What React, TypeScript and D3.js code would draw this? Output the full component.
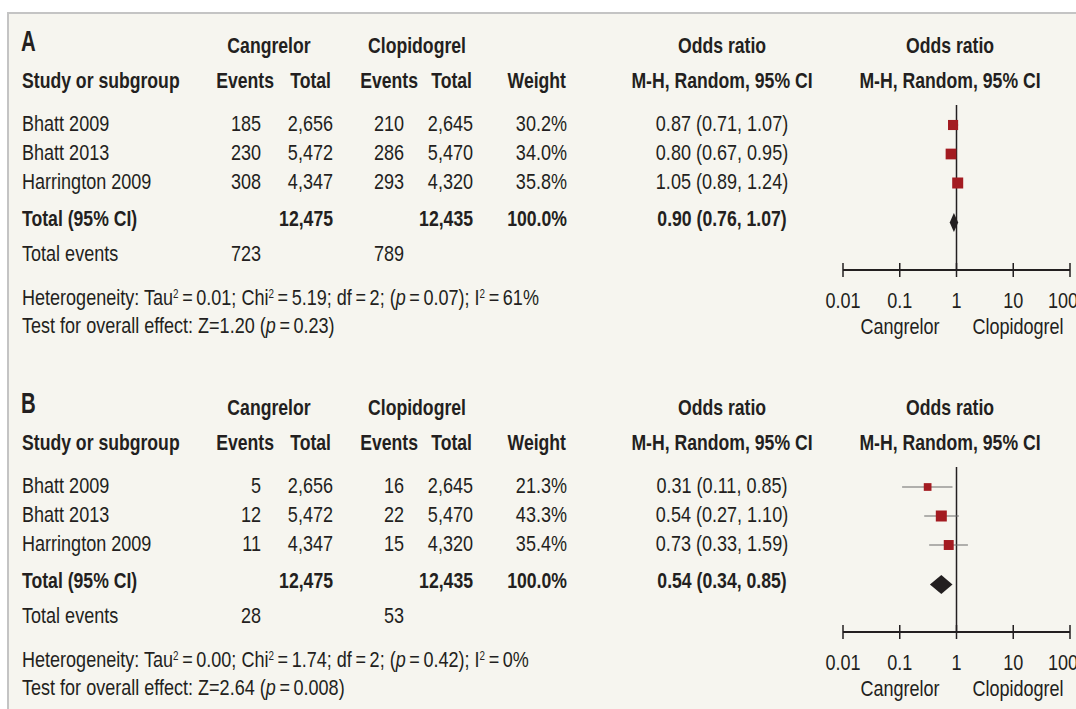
import React from "react";
import * as d3 from "d3";

// ---------- DATA ----------
const studies = ["Bhatt 2009", "Bhatt 2013", "Harrington 2009"];

// Panel A
const aCangEvents = [185, 230, 308];
const aCangTotal = [2656, 5472, 4347];
const aClopEvents = [210, 286, 293];
const aClopTotal = [2645, 5470, 4320];
const aWeight = [30.2, 34.0, 35.8];
const aOR = [0.87, 0.8, 1.05];
const aLo = [0.71, 0.67, 0.89];
const aHi = [1.07, 0.95, 1.24];
const aPooled = [0.9, 0.76, 1.07];
const aTotals = [12475, 12435];
const aTotalEvents = [723, 789];
const aHet = ["0.01", "5.19", "2", "0.07", "61%"];
const aTest = ["1.20", "0.23"];

// Panel B
const bCangEvents = [5, 12, 11];
const bCangTotal = [2656, 5472, 4347];
const bClopEvents = [16, 22, 15];
const bClopTotal = [2645, 5470, 4320];
const bWeight = [21.3, 43.3, 35.4];
const bOR = [0.31, 0.54, 0.73];
const bLo = [0.11, 0.27, 0.33];
const bHi = [0.85, 1.1, 1.59];
const bPooled = [0.54, 0.34, 0.85];
const bTotals = [12475, 12435];
const bTotalEvents = [28, 53];
const bHet = ["0.00", "1.74", "2", "0.42", "0%"];
const bTest = ["2.64", "0.008"];

const axisTicks = [0.01, 0.1, 1, 10, 100];
const axisTickLabels = ["0.01", "0.1", "1", "10", "100"];
const favourLabels = ["Cangrelor", "Clopidogrel"];

// ---------- STYLE ----------
const FONT = "'Liberation Sans', Arial, sans-serif";
const INK = "#231f20";
const RED = "#a31b21";
const BG = "#f6f5ef";
const SX = 0.82; // horizontal compression to mimic a condensed face
const EQ = "\u2009=\u2009";

const fmtInt = d3.format(",");
const fmt2 = d3.format(".2f");
const fmtW = (w: number) => d3.format(".1f")(w) + "%";
const orText = (o: number, l: number, h: number) => `${fmt2(o)} (${fmt2(l)}, ${fmt2(h)})`;

const x = d3.scaleLog().domain([0.01, 100]).range([843, 1070]);

interface PanelProps {
  letter: string;
  dy: number;
  ce: number[];
  ct: number[];
  le: number[];
  lt: number[];
  w: number[];
  or: number[];
  lo: number[];
  hi: number[];
  pooled: number[];
  totals: number[];
  totalEvents: number[];
  het: string[];
  test: string[];
}

const FS = 22;
const FSB = 21.5;

function T(props: any) {
  const { x: px, y, bold, size, sx, children, ...rest } = props;
  const fs = size || (bold ? FSB : FS);
  const bl = y + fs * 0.358;
  return (
    <text
      transform={`translate(${px},${bl}) scale(${sx || SX},1)`}
      fontFamily={FONT}
      fontSize={fs}
      fontWeight={bold ? "bold" : "normal"}
      fill={INK}
      {...rest}
    >
      {children}
    </text>
  );
}

function Panel(p: PanelProps) {
  const rowY = (i: number) => p.dy + 123 + i * 29;
  const totalY = p.dy + 218.5;
  const evY = p.dy + 253;
  const hetY = p.dy + 297;
  const testY = p.dy + 325;
  const axisY = p.dy + 270;
  const maxW = d3.max(p.w) as number;
  const size = d3.scaleSqrt().domain([0, maxW]).range([0, 11]);
  const sup = (s: string) => (
    <tspan baselineShift="super" fontSize={12}>
      {s}
    </tspan>
  );
  const lastIdx = axisTicks.length - 1;
  return (
    <g>
      <T y={p.dy + 40} x={21} bold size={30} sx={0.68}>
        {p.letter}
      </T>
      <T y={p.dy + 45} x={269} bold textAnchor="middle">Cangrelor</T>
      <T y={p.dy + 45} x={417} bold textAnchor="middle">Clopidogrel</T>
      <T y={p.dy + 45} x={722} bold textAnchor="middle">Odds ratio</T>
      <T y={p.dy + 45} x={950} bold textAnchor="middle">Odds ratio</T>

      <T y={p.dy + 80} x={22} bold>Study or subgroup</T>
      <T y={p.dy + 80} x={274} bold textAnchor="end">Events</T>
      <T y={p.dy + 80} x={331} bold textAnchor="end">Total</T>
      <T y={p.dy + 80} x={418} bold textAnchor="end">Events</T>
      <T y={p.dy + 80} x={472} bold textAnchor="end">Total</T>
      <T y={p.dy + 80} x={566} bold textAnchor="end">Weight</T>
      <T y={p.dy + 80} x={722} bold textAnchor="middle">M-H, Random, 95% CI</T>
      <T y={p.dy + 80} x={950} bold textAnchor="middle">M-H, Random, 95% CI</T>

      {studies.map((s, i) => (
        <g key={s}>
          <T y={rowY(i)} x={22}>{s}</T>
          <T y={rowY(i)} x={261} textAnchor="end">{p.ce[i]}</T>
          <T y={rowY(i)} x={333} textAnchor="end">{fmtInt(p.ct[i])}</T>
          <T y={rowY(i)} x={404} textAnchor="end">{p.le[i]}</T>
          <T y={rowY(i)} x={473} textAnchor="end">{fmtInt(p.lt[i])}</T>
          <T y={rowY(i)} x={567} textAnchor="end">{fmtW(p.w[i])}</T>
          <T y={rowY(i)} x={722} textAnchor="middle">{orText(p.or[i], p.lo[i], p.hi[i])}</T>
        </g>
      ))}

      <T y={totalY} x={22} bold>Total (95% CI)</T>
      <T y={totalY} x={333} bold textAnchor="end">{fmtInt(p.totals[0])}</T>
      <T y={totalY} x={473} bold textAnchor="end">{fmtInt(p.totals[1])}</T>
      <T y={totalY} x={567} bold textAnchor="end">100.0%</T>
      <T y={totalY} x={722} bold textAnchor="middle">{orText(p.pooled[0], p.pooled[1], p.pooled[2])}</T>

      <T y={evY} x={22}>Total events</T>
      <T y={evY} x={261} textAnchor="end">{p.totalEvents[0]}</T>
      <T y={evY} x={404} textAnchor="end">{p.totalEvents[1]}</T>

      <T y={hetY} x={22}>
        Heterogeneity: Tau{sup("2")}
        {EQ + p.het[0]}; Chi{sup("2")}
        {EQ + p.het[1]}; df{EQ + p.het[2]}; (<tspan fontStyle="italic">p</tspan>
        {EQ + p.het[3]}); I{sup("2")}
        {EQ + p.het[4]}
      </T>
      <T y={testY} x={22}>
        Test for overall effect: Z={p.test[0]} (<tspan fontStyle="italic">p</tspan>
        {EQ + p.test[1]})
      </T>

      {/* forest plot */}
      <line x1={x(1)} x2={x(1)} y1={p.dy + 105} y2={axisY} stroke={INK} strokeWidth={1.5} />
      {studies.map((s, i) => {
        const cy = rowY(i) + 2;
        const sz = size(p.w[i]);
        return (
          <g key={"m" + s}>
            <line x1={x(p.lo[i])} x2={x(p.hi[i])} y1={cy} y2={cy} stroke="#6a6a6a" strokeWidth={1.2} />
            <rect x={x(p.or[i]) - sz / 2} y={cy - sz / 2} width={sz} height={sz} fill={RED} />
          </g>
        );
      })}
      <polygon
        points={[
          [x(p.pooled[1]), totalY + 4],
          [x(p.pooled[0]), totalY + 4 - 9.5],
          [x(p.pooled[2]), totalY + 4],
          [x(p.pooled[0]), totalY + 4 + 9.5],
        ]
          .map((d) => d.join(","))
          .join(" ")}
        fill={INK}
      />
      <line x1={x(0.01)} x2={x(100)} y1={axisY} y2={axisY} stroke={INK} strokeWidth={2} />
      {axisTicks.map((t, i) => (
        <g key={"t" + t}>
          <line x1={x(t)} x2={x(t)} y1={axisY - 7} y2={axisY + 7} stroke={INK} strokeWidth={1.5} />
          <T y={p.dy + 300} x={x(t) - (i === lastIdx ? 7 : 0)} textAnchor="middle">
            {axisTickLabels[i]}
          </T>
        </g>
      ))}
      <T y={p.dy + 326} x={900} textAnchor="middle">{favourLabels[0]}</T>
      <T y={p.dy + 326} x={1018} textAnchor="middle">{favourLabels[1]}</T>
    </g>
  );
}

export default function App() {
  return (
    <svg
      width={1076}
      height={709}
      style={{ position: "absolute", left: 0, top: 0, background: "#fff" }}
    >
      <rect x={8} y={13} width={1100} height={720} fill={BG} stroke="#c4c4c4" strokeWidth={2} />
      <Panel
        letter="A"
        dy={0}
        ce={aCangEvents}
        ct={aCangTotal}
        le={aClopEvents}
        lt={aClopTotal}
        w={aWeight}
        or={aOR}
        lo={aLo}
        hi={aHi}
        pooled={aPooled}
        totals={aTotals}
        totalEvents={aTotalEvents}
        het={aHet}
        test={aTest}
      />
      <Panel
        letter="B"
        dy={362}
        ce={bCangEvents}
        ct={bCangTotal}
        le={bClopEvents}
        lt={bClopTotal}
        w={bWeight}
        or={bOR}
        lo={bLo}
        hi={bHi}
        pooled={bPooled}
        totals={bTotals}
        totalEvents={bTotalEvents}
        het={bHet}
        test={bTest}
      />
    </svg>
  );
}
